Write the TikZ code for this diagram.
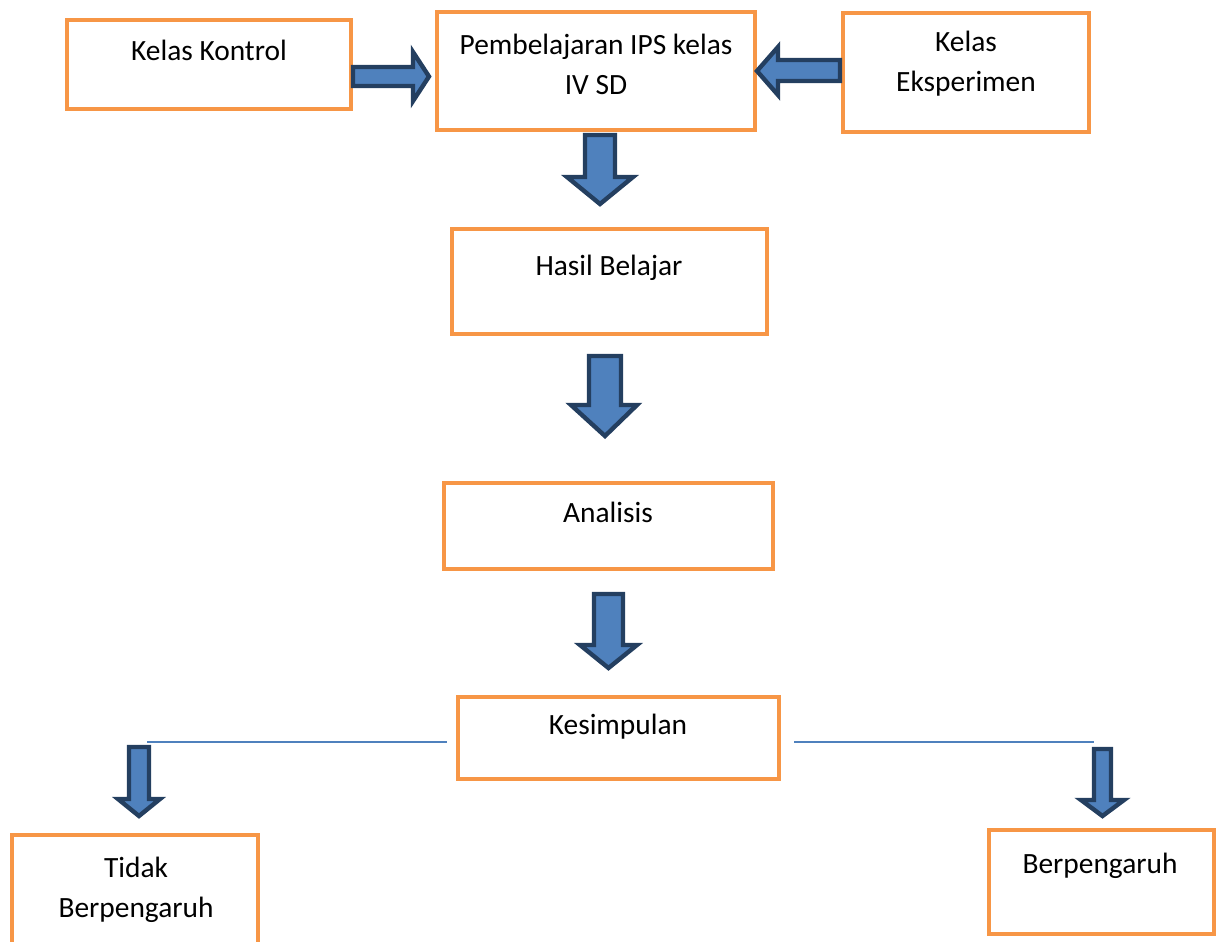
\documentclass[tikz,border=0pt]{standalone}
\usepackage{fontspec}
\setmainfont{Carlito}
\definecolor{boxorange}{HTML}{F79646}
\definecolor{arrowblue}{HTML}{4F81BD}
\definecolor{arrowdark}{HTML}{243F60}

\begin{document}
\begin{tikzpicture}[
    x=0.5pt, y=-0.5pt,
    box/.style={rectangle, draw=boxorange, line width=2pt, fill=white},
    label/.style={font=\fontsize{14.7}{20}\selectfont, align=center},
    blockarrow/.style={draw=arrowdark, fill=arrowblue, line width=2.2pt, line join=miter},
    line/.style={draw=arrowblue, line width=0.8pt}
]
    \useasboundingbox (0,0) rectangle (1221,942);

    % boxes
    \node [box, minimum width=142pt, minimum height=44.5pt] (kontrol) at (209,64.5) {};
    \node [box, minimum width=159pt, minimum height=59pt] (ips) at (596,71) {};
    \node [box, minimum width=123pt, minimum height=59.5pt] (eksp) at (966,72.5) {};
    \node [box, minimum width=157.5pt, minimum height=52.5pt] (hasil) at (609.5,281.5) {};
    \node [box, minimum width=164.5pt, minimum height=43pt] (analisis) at (608.5,526) {};
    \node [box, minimum width=160.5pt, minimum height=41pt] (kesimpulan) at (618.5,738) {};
    \node [box, minimum width=123pt, minimum height=58pt] (tidak) at (135,893) {};
    \node [box, minimum width=112.5pt, minimum height=52pt] (pengaruh) at (1101.5,882) {};

    % texts
    \node [label] (kontrol-t) at (209,50) {Kelas Kontrol};
    \node [label] (ips-t) at (596,64) {Pembelajaran IPS kelas\\IV SD};
    \node [label] (eksp-t) at (966,64) {Kelas\\Eksperimen};
    \node [label] (hasil-t) at (609,268) {Hasil Belajar};
    \node [label] (analisis-t) at (608,512) {Analisis};
    \node [label] (kesimpulan-t) at (618,727) {Kesimpulan};
    \node [label] (tidak-t) at (136,890) {Tidak\\Berpengaruh};
    \node [label] (pengaruh-t) at (1100,866) {Berpengaruh};

    % block arrows
    \draw [blockarrow] (353,67) -- (413,67) -- (413,52) -- (429,76.5) -- (413,101) -- (413,86) -- (353,86) -- cycle;
    \draw [blockarrow] (840,60) -- (778,60) -- (778,47) -- (757,71) -- (778,95) -- (778,81) -- (840,81) -- cycle;
    \draw [blockarrow] (585,135) -- (615,135) -- (615,177) -- (633,177) -- (600,204) -- (567,177) -- (585,177) -- cycle;
    \draw [blockarrow] (589,356) -- (621,356) -- (621,405) -- (637,405) -- (605,436) -- (571,405) -- (589,405) -- cycle;
    \draw [blockarrow] (594,594) -- (623,594) -- (623,645) -- (637,645) -- (608.5,668) -- (580,645) -- (594,645) -- cycle;
    \draw [blockarrow] (129,747) -- (149,747) -- (149,799) -- (160,799) -- (139,816) -- (118,799) -- (129,799) -- cycle;
    \draw [blockarrow] (1094,749) -- (1111,749) -- (1111,800) -- (1124,800) -- (1102.5,816) -- (1081,800) -- (1094,800) -- cycle;

    % branch lines
    \coordinate (left-a) at (147,742);
    \coordinate (left-b) at (447,742);
    \coordinate (right-a) at (794,742);
    \coordinate (right-b) at (1094,742);
    \draw [line] (left-a) -- (left-b);
    \draw [line] (right-a) -- (right-b);
\end{tikzpicture}
\end{document}
